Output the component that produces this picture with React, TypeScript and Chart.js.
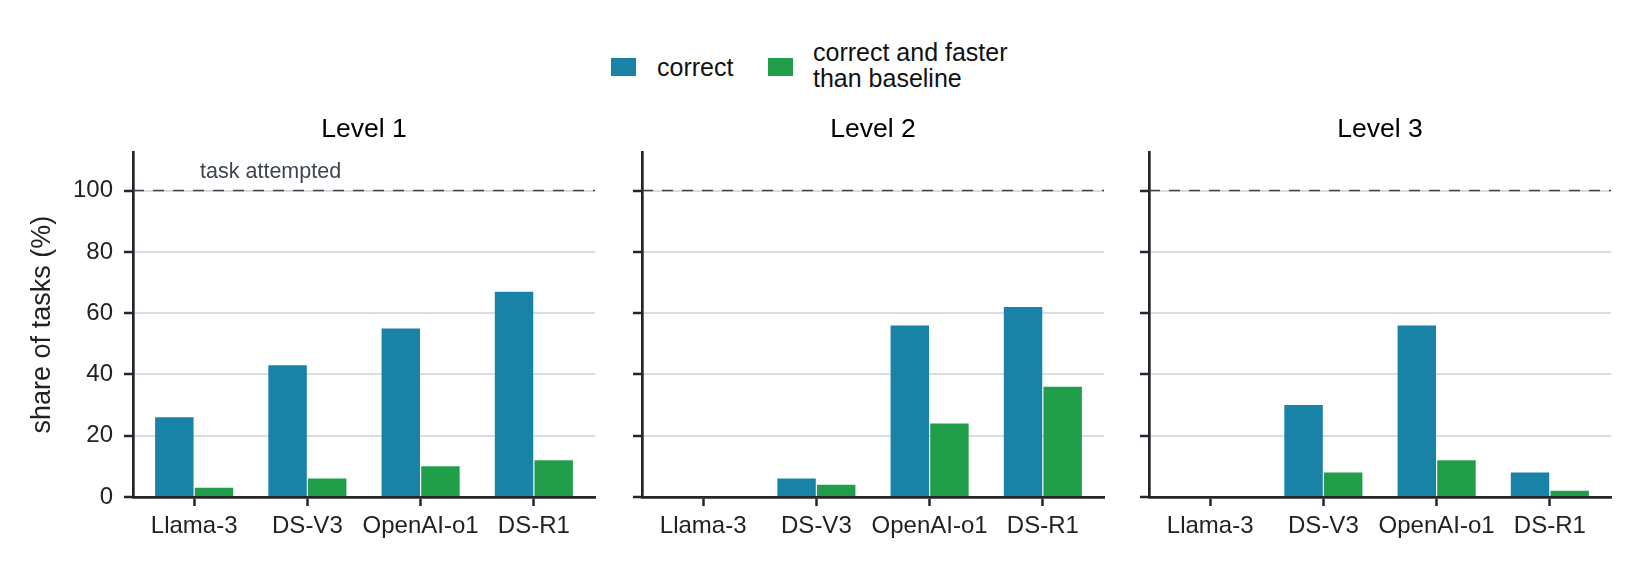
import { useEffect, useRef } from 'react';
import { Chart, registerables } from 'chart.js';

Chart.register(...registerables);

const models = ['Llama-3', 'DS-V3', 'OpenAI-o1', 'DS-R1'];
const levels = ['Level 1', 'Level 2', 'Level 3'];
const correctL1 = [26, 43, 55, 67];
const fasterL1 = [3, 6, 10, 12];
const correctL2 = [0, 6, 56, 62];
const fasterL2 = [0, 4, 24, 36];
const correctL3 = [0, 30, 56, 8];
const fasterL3 = [0, 8, 12, 2];
const yTicks = [0, 20, 40, 60, 80, 100];
const attempted = 100;

const FONT = '"Liberation Sans", Arial, sans-serif';
const BLUE = '#1882a7';
const GREEN = '#209e4a';
const AXIS = '#22262b';
const GRID = '#d5dfe3';
const TICK = '#222222';

const PLOT_W = 462;
const TOP = 100;
const H = 469;

function attemptedPlugin(withLabel: boolean) {
  return {
    id: 'attempted',
    beforeDatasetsDraw(chart: Chart) {
      const { ctx, chartArea, scales } = chart;
      const y = scales.y.getPixelForValue(attempted);
      ctx.save();
      ctx.strokeStyle = '#3d4248';
      ctx.lineWidth = 1.5;
      ctx.setLineDash([11, 9]);
      ctx.beginPath();
      ctx.moveTo(chartArea.left, y);
      ctx.lineTo(chartArea.right, y);
      ctx.stroke();
      if (withLabel) {
        ctx.setLineDash([]);
        ctx.fillStyle = '#3c4650';
        ctx.font = `21.5px ${FONT}`;
        ctx.textAlign = 'center';
        ctx.textBaseline = 'alphabetic';
        ctx.fillText('task attempted', scales.x.getPixelForValue(0.675), scales.y.getPixelForValue(104.2));
      }
      ctx.restore();
    },
  };
}

interface PanelProps {
  title: string;
  correct: number[];
  faster: number[];
  axisX: number;
  first: boolean;
}

function Panel({ title, correct, faster, axisX, first }: PanelProps) {
  const canvasRef = useRef<HTMLCanvasElement>(null);
  const yWidth = first ? 133 : 30;
  const width = yWidth + PLOT_W + 10;

  useEffect(() => {
    if (!canvasRef.current) return;
    const chart = new Chart(canvasRef.current, {
      type: 'bar',
      data: {
        datasets: [
          {
            label: 'correct',
            data: correct.map((v, i) => ({ x: i, y: v })),
            backgroundColor: BLUE,
            categoryPercentage: 0.7,
            barPercentage: 0.97,
          },
          {
            label: 'correct and faster than baseline',
            data: faster.map((v, i) => ({ x: i, y: v })),
            backgroundColor: GREEN,
            categoryPercentage: 0.7,
            barPercentage: 0.97,
          },
        ],
      },
      options: {
        animation: false,
        responsive: false,
        devicePixelRatio: 1,
        layout: { padding: { left: 0, right: 10, top: 0, bottom: 0 } },
        plugins: {
          legend: { display: false },
          tooltip: { enabled: false },
          title: {
            display: true,
            fullSize: false,
            text: title,
            color: '#000',
            font: { family: FONT, size: 26.5, weight: 'normal' },
            padding: { top: 14, bottom: 6.5 },
          },
        },
        scales: {
          x: {
            type: 'linear',
            min: -0.54,
            max: 3.54,
            offset: false,
            z: 1,
            afterBuildTicks: (s: any) => { s.ticks = models.map((_, i) => ({ value: i })); },
            afterFit: (s: any) => { s.height = 72; },
            grid: { offset: false, drawOnChartArea: false, drawTicks: true, tickLength: 9, tickWidth: 2.5, tickColor: AXIS },
            border: { display: true, color: AXIS, width: 2.7 },
            ticks: {
              color: TICK,
              font: { family: FONT, size: 24 },
              padding: 6,
              maxRotation: 0,
              autoSkip: false,
              callback: (v: any) => models[v] ?? '',
            },
          },
          y: {
            min: 0,
            max: 112.5,
            afterBuildTicks: (s: any) => { s.ticks = yTicks.map((value) => ({ value })); },
            afterFit: (s: any) => { s.width = yWidth; },
            grid: { color: GRID, lineWidth: 2, tickColor: AXIS, tickLength: 9, tickWidth: 2.5 },
            border: { display: true, color: AXIS, width: 2.7 },
            ticks: { display: first, color: TICK, font: { family: FONT, size: 24 }, padding: 11 },
            title: {
              display: first,
              text: 'share of tasks (%)',
              color: TICK,
              font: { family: FONT, size: 27 },
              padding: { top: 26, bottom: 0 },
            },
          },
        },
      } as any,
      plugins: [attemptedPlugin(first)],
    });
    return () => { chart.destroy(); };
  }, []);

  return (
    <canvas
      ref={canvasRef}
      width={width}
      height={H}
      style={{ position: 'absolute', left: axisX - yWidth, top: TOP, width, height: H }}
    />
  );
}

export default function App() {
  return (
    <div style={{ position: 'absolute', left: 0, top: 0, width: 1640, height: 569, background: '#fff', fontFamily: FONT }}>
      <div style={{ position: 'absolute', left: 611, top: 58, width: 25, height: 18, background: BLUE }} />
      <div style={{ position: 'absolute', left: 657, top: 54, fontSize: 25, lineHeight: '26px', color: '#111' }}>correct</div>
      <div style={{ position: 'absolute', left: 768, top: 58, width: 25, height: 18, background: GREEN }} />
      <div style={{ position: 'absolute', left: 813, top: 39, fontSize: 25, lineHeight: '26px', color: '#111' }}>
        correct and faster
        <br />
        than baseline
      </div>
      <Panel title={levels[0]} correct={correctL1} faster={fasterL1} axisX={133} first />
      <Panel title={levels[1]} correct={correctL2} faster={fasterL2} axisX={642} first={false} />
      <Panel title={levels[2]} correct={correctL3} faster={fasterL3} axisX={1149} first={false} />
    </div>
  );
}
